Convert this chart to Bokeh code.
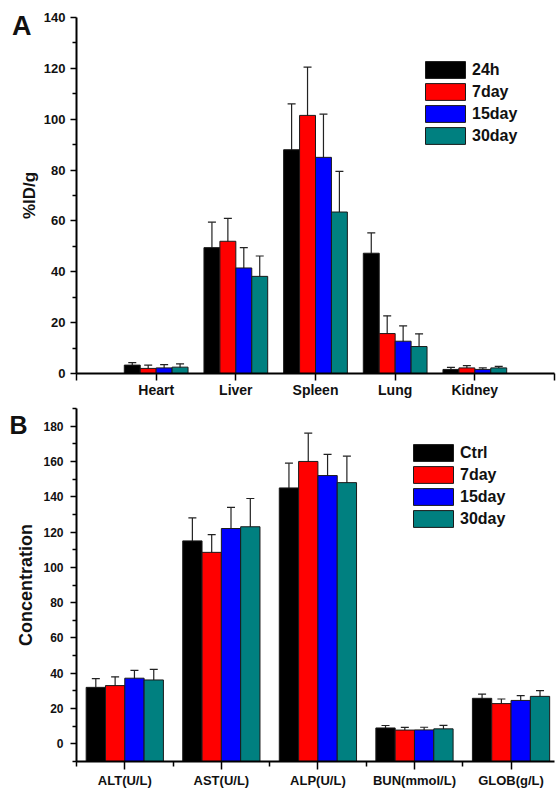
import numpy as np
from bokeh.plotting import figure
from bokeh.models import (ColumnDataSource, FixedTicker, Whisker, TeeHead,
                          Legend, LegendItem, LinearAxis, Range1d)
from bokeh.layouts import column
from bokeh.embed import file_html
from bokeh.resources import INLINE

# ---------------- data: panel A (biodistribution) ----------------
organs = ["Heart", "Liver", "Spleen", "Lung", "Kidney"]
series_a = ["24h", "7day", "15day", "30day"]
a_24h = [3.3, 49.5, 88.0, 47.3, 1.6]
a_24h_err = [1.0, 10.0, 18.0, 8.0, 0.8]
a_7day = [2.0, 52.0, 101.5, 15.7, 2.2]
a_7day_err = [1.3, 9.0, 19.0, 7.0, 0.9]
a_15day = [2.2, 41.5, 85.0, 12.7, 1.6]
a_15day_err = [1.3, 8.0, 17.0, 6.0, 0.6]
a_30day = [2.5, 38.2, 63.5, 10.6, 2.2]
a_30day_err = [1.3, 8.0, 16.0, 5.0, 0.6]
a_yticks = [0, 20, 40, 60, 80, 100, 120, 140]

# ---------------- data: panel B (blood chemistry) ----------------
tests = ["ALT(U/L)", "AST(U/L)", "ALP(U/L)", "BUN(mmol/L)", "GLOB(g/L)"]
series_b = ["Ctrl", "7day", "15day", "30day"]
b_ctrl = [32.0, 115.0, 145.0, 9.0, 25.8]
b_ctrl_err = [5.0, 13.0, 14.0, 1.4, 2.4]
b_7day = [33.0, 108.5, 160.0, 7.8, 22.8]
b_7day_err = [5.0, 10.0, 16.0, 1.5, 2.6]
b_15day = [37.2, 122.0, 152.0, 7.9, 24.6]
b_15day_err = [4.4, 12.0, 12.0, 1.5, 2.7]
b_30day = [36.2, 123.0, 148.0, 8.5, 26.9]
b_30day_err = [6.0, 16.0, 15.0, 2.0, 3.2]
b_yticks = [0, 20, 40, 60, 80, 100, 120, 140, 160, 180]

colors = ["#000000", "#FF0000", "#0000FF", "#008080"]
FONT = "Liberation Sans"
BAR_W = 0.2


def make_panel(cats, names, vals, errs, xr, yr, xticks, xlabels, xminor,
               yticks, yminor, ylabel, height, bl, br, bt, bb,
               ytick_font, ylabel_font, ylabel_standoff, ytick_standoff,
               xtick_font, xtick_out, xminor_out, xstandoff,
               letter, letter_px, letter_standoff, letter_size, leg_loc):
    p = figure(width=558, height=height, output_backend="svg",
               toolbar_location=None, x_range=Range1d(*xr), y_range=Range1d(*yr),
               min_border_left=bl, min_border_right=br, min_border_top=bt,
               min_border_bottom=bb)
    p.outline_line_color = None
    p.grid.visible = False
    p.background_fill_color = "white"
    p.border_fill_color = "white"

    idx = np.arange(1, len(cats) + 1)
    renderers = []
    for k, (v, e) in enumerate(zip(vals, errs)):
        off = (k - 1.5) * BAR_W
        x = idx + off
        v = np.array(v)
        e = np.array(e)
        src = ColumnDataSource(dict(x=x, top=v, upper=v + e, lower=v - e))
        r = p.vbar(x="x", top="top", bottom=yr[0], width=BAR_W, source=src,
                   fill_color=colors[k], line_color="#1a1a1a", line_width=1)
        renderers.append(r)
        w = Whisker(base="x", upper="upper", lower="lower", source=src,
                    dimension="height", line_color="#222222", line_width=1.2,
                    upper_head=TeeHead(size=8, line_color="#222222", line_width=1.2),
                    lower_head=TeeHead(size=8, line_color="#222222", line_width=1.2))
        p.add_layout(w)

    # x axis
    xa = p.xaxis[0]
    xa.ticker = FixedTicker(ticks=xticks, minor_ticks=xminor)
    xa.major_label_overrides = xlabels
    xa.axis_line_width = 2
    xa.major_tick_line_width = 1.5
    xa.minor_tick_line_width = 1.5
    xa.major_tick_out = xtick_out
    xa.major_tick_in = 0
    xa.minor_tick_out = xminor_out
    xa.minor_tick_in = 0
    xa.major_label_standoff = xstandoff
    xa.major_label_text_font = FONT
    xa.major_label_text_font_style = "bold"
    xa.major_label_text_font_size = xtick_font
    xa.major_label_text_color = "#111111"

    # y axis
    ya = p.yaxis[0]
    ya.ticker = FixedTicker(ticks=yticks, minor_ticks=yminor)
    ya.axis_line_width = 2
    ya.major_tick_line_width = 1.5
    ya.minor_tick_line_width = 1.5
    ya.major_tick_out = 6
    ya.major_tick_in = 0
    ya.minor_tick_out = 4
    ya.minor_tick_in = 0
    ya.major_label_standoff = ytick_standoff
    ya.major_label_text_font = FONT
    ya.major_label_text_font_style = "bold"
    ya.major_label_text_font_size = ytick_font
    ya.major_label_text_color = "#111111"
    ya.axis_label = ylabel
    ya.axis_label_text_font = FONT
    ya.axis_label_text_font_style = "bold"
    ya.axis_label_text_font_size = ylabel_font
    ya.axis_label_standoff = ylabel_standoff
    ya.axis_label_text_color = "#111111"

    legend = Legend(items=[LegendItem(label=n, renderers=[r]) for n, r in zip(names, renderers)],
                    location=leg_loc, glyph_width=50, glyph_height=21, spacing=1,
                    label_standoff=2, padding=0, margin=0, border_line_color=None,
                    background_fill_alpha=0, label_text_font=FONT,
                    label_text_font_style="bold", label_text_font_size="16px",
                    label_text_color="#111111")
    p.add_layout(legend)

    # panel letter, drawn as the only label of an extra, line-less left axis
    frame_h = height - bt - bb
    letter_val = yr[1] - letter_px * (yr[1] - yr[0]) / frame_h
    la = LinearAxis(ticker=FixedTicker(ticks=[letter_val], minor_ticks=[]),
                    major_label_overrides={letter_val: letter},
                    axis_line_color=None, major_tick_line_color=None,
                    minor_tick_line_color=None, major_tick_out=0, major_tick_in=0,
                    minor_tick_out=0, minor_tick_in=0,
                    major_label_standoff=letter_standoff,
                    major_label_text_font=FONT, major_label_text_font_style="bold",
                    major_label_text_font_size=letter_size,
                    major_label_text_color="#111111")
    p.add_layout(la, "left")
    return p


pa = make_panel(
    organs, series_a,
    [a_24h, a_7day, a_15day, a_30day],
    [a_24h_err, a_7day_err, a_15day_err, a_30day_err],
    xr=(0, 6), yr=(0, 140),
    xticks=list(range(0, len(organs) + 2)),
    xlabels={i: (organs[i - 1] if 1 <= i <= len(organs) else "") for i in range(0, len(organs) + 2)},
    xminor=[],
    yticks=a_yticks, yminor=[t + 10 for t in a_yticks[:-1]],
    ylabel="%ID/g", height=400, bl=73, br=4, bt=17, bb=26,
    ytick_font="13px", ylabel_font="17px", ylabel_standoff=2, ytick_standoff=5,
    xtick_font="14px", xtick_out=7, xminor_out=0, xstandoff=1,
    letter="A", letter_px=9, letter_standoff=-15, letter_size="27px",
    leg_loc=(344, 227))

pb = make_panel(
    tests, series_b,
    [b_ctrl, b_7day, b_15day, b_30day],
    [b_ctrl_err, b_7day_err, b_15day_err, b_30day_err],
    xr=(0.5, 5.45), yr=(-10, 190),
    xticks=list(range(1, len(tests) + 1)),
    xlabels={i: tests[i - 1] for i in range(1, len(tests) + 1)},
    xminor=[i + 0.5 for i in range(0, len(tests) + 1)],
    yticks=b_yticks, yminor=[-10] + [t + 10 for t in b_yticks],
    ylabel="Concentration", height=390, bl=76, br=0, bt=8, bb=26,
    ytick_font="12px", ylabel_font="18px", ylabel_standoff=4, ytick_standoff=7,
    xtick_font="13px", xtick_out=8, xminor_out=5, xstandoff=3,
    letter="B", letter_px=17, letter_standoff=-14, letter_size="25px",
    leg_loc=(332, 232))

layout = column(pa, pb, spacing=0)
open("out.html", "w").write(file_html(layout, INLINE))
